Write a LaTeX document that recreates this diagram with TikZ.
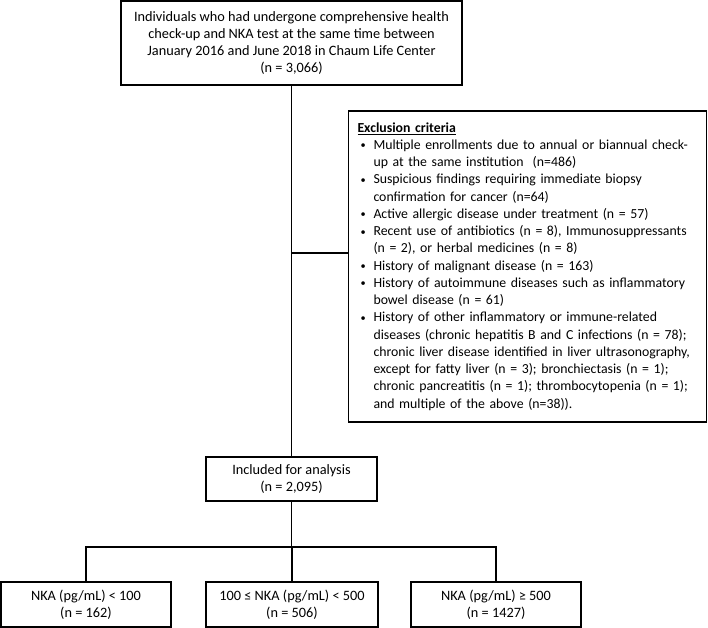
\documentclass[tikz,border=0pt]{standalone}
\usepackage{fontspec}
\setmainfont{Carlito}
\begin{document}
\begin{tikzpicture}[x=1pt,y=-1pt,
  box/.style={draw=black,line width=1.7pt,inner sep=0pt,align=center,
    font=\fontsize{14.3}{17.3}\selectfont},
  conn/.style={draw=black,line width=1.7pt}]
\useasboundingbox (0,0) rectangle (708,627);
\node[box,minimum width=341,minimum height=84] (top) at (291.5,43)
  {Individuals who had undergone comprehensive health\\
   check-up and NKA test at the same time between\\
   January 2016 and June 2018 in Chaum Life Center\\
   (n = 3,066)};
\newcommand{\bitem}[1]{\mbox{\makebox[16pt][l]{\hspace{3pt}\raisebox{0.5pt}{\scalebox{0.75}{\textbullet}}}#1}}
\newcommand{\citem}[1]{\mbox{\hspace*{16pt}#1}}
\node[box,align=left,minimum width=357,minimum height=311,text width=340,inner xsep=9pt,
  font=\fontsize{13.8}{17.25}\selectfont]
  (excl) at (527.5,266.5)
  {\textbf{\underline{Exclusion criteria}}\\
   \bitem{Multiple enrollments due to annual or biannual check-}\\
   \citem{up at the same institution \ (n=486)}\\
   \bitem{Suspicious findings requiring immediate biopsy}\\
   \citem{confirmation for cancer (n=64)}\\
   \bitem{Active allergic disease under treatment (n = 57)}\\
   \bitem{Recent use of antibiotics (n = 8), Immunosuppressants}\\
   \citem{(n = 2), or herbal medicines (n = 8)}\\
   \bitem{History of malignant disease (n = 163)}\\
   \bitem{History of autoimmune diseases such as inflammatory}\\
   \citem{bowel disease (n = 61)}\\
   \bitem{History of other inflammatory or immune-related}\\
   \citem{diseases (chronic hepatitis B and C infections (n = 78);}\\
   \citem{chronic liver disease identified in liver ultrasonography,}\\
   \citem{except for fatty liver (n = 3); bronchiectasis (n = 1);}\\
   \citem{chronic pancreatitis (n = 1); thrombocytopenia (n = 1);}\\
   \citem{and multiple of the above (n=38)).}};
\node[box,minimum width=171,minimum height=44] (incl) at (291.5,479)
  {Included for analysis\\(n = 2,095)};
\node[box,minimum width=170,minimum height=45] (b1) at (86,604.5)
  {NKA (pg/mL) < 100\\(n = 162)};
\node[box,minimum width=172,minimum height=45] (b2) at (292,604.5)
  {100 ≤ NKA (pg/mL) < 500\\(n = 506)};
\node[box,minimum width=170,minimum height=45] (b3) at (496,604.5)
  {NKA (pg/mL) ≥ 500\\(n = 1427)};
\coordinate (br) at (291.5,253);
\coordinate (split) at (291.5,547);
\draw[conn] (top.south) -- (incl.north);
\draw[conn] (br) -- (br -| excl.west);
\draw[conn] (incl.south) -- (split);
\draw[conn] (b1.north) |- (split) -| (b3.north);
\draw[conn] (split) -- (split -| b2.north) -- (b2.north);
\end{tikzpicture}
\end{document}
